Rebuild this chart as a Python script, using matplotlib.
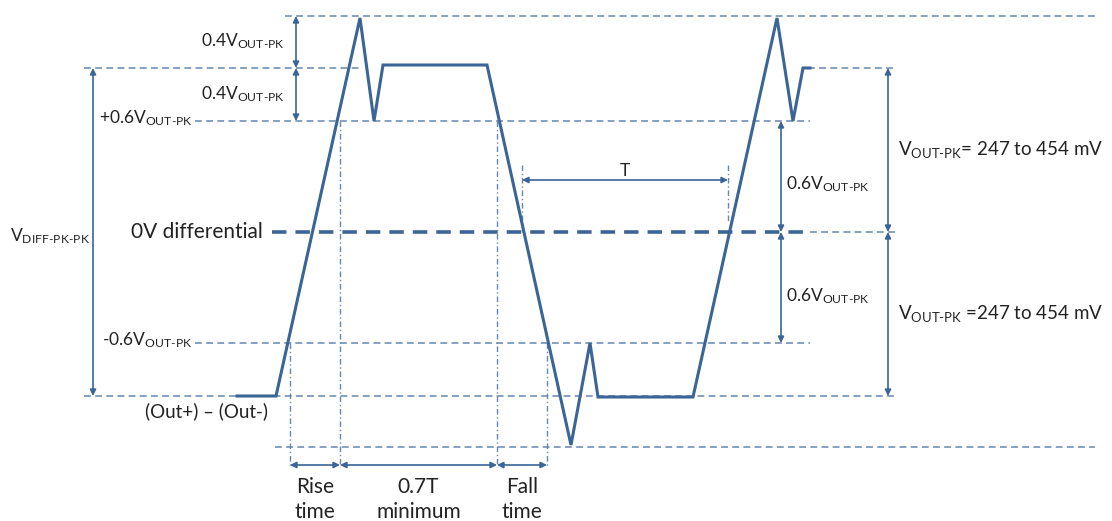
import matplotlib
matplotlib.use("Agg")
import matplotlib.pyplot as plt

plt.rcParams['font.family'] = ['Lato', 'DejaVu Sans']
plt.rcParams['mathtext.fontset'] = 'custom'
plt.rcParams['mathtext.rm'] = 'Lato'
plt.rcParams['mathtext.it'] = 'Lato'

# waveform corner points (time, level) in drawing units
wave_t = [237, 276, 360, 374, 383, 487, 571, 590, 598, 693, 777, 793, 803, 810]
wave_v = [396, 396, 18, 121, 65, 65, 445, 343, 397, 397, 18, 121, 68, 68]

# reference levels
lvl_top, lvl_high, lvl_p06, lvl_zero, lvl_m06, lvl_low, lvl_bot = 16, 68, 121, 232, 343, 396, 447
# threshold crossing times
t_rise0, t_rise1, t_fall0, t_fall1 = 290, 340, 497, 547
t_per0, t_per1 = 522, 728

wave_c = '#3a6596'
guide_c = '#6586b0'
txt_c = '#222222'

fig = plt.figure(figsize=(11.12, 5.21), dpi=100)
ax = fig.add_axes([0, 0, 1, 1])
ax.set_xlim(0, 1112)
ax.set_ylim(521, 0)
ax.axis('off')


def hdash(y, x0, x1, lw=1.1, ls=(0, (4.5, 2.8)), c=guide_c):
    ax.plot([x0, x1], [y, y], color=c, lw=lw, linestyle=ls)


def vdot(x, y0, y1):
    ax.plot([x, x], [y0, y1], color=guide_c, lw=1.0, linestyle=(0, (4, 2, 1, 2)))


def arrow(p0, p1):
    ax.annotate('', xy=p1, xytext=p0,
                arrowprops=dict(arrowstyle='<|-|>', color=wave_c, lw=1.2,
                                mutation_scale=9, shrinkA=0, shrinkB=0))


def vlabel(x, y, main, sub, rest='', ha='left', size=12.5):
    s = r'$\text{%s}_{\text{%s}}\text{%s}$' % (main, sub, rest)
    ax.text(x, y, s, ha=ha, va='center', fontsize=size, color=txt_c)


# horizontal guide lines
hdash(lvl_top, 285, 1095)
hdash(lvl_high, 84, 360)
hdash(lvl_high, 808, 895)
hdash(lvl_p06, 195, 810)
hdash(lvl_m06, 195, 810)
hdash(lvl_low, 84, 895)
hdash(lvl_bot, 275, 1095)
hdash(lvl_zero, 810, 895)
hdash(lvl_zero, 272, 810, lw=2.6, ls=(0, (4, 2.5)), c=wave_c)

# vertical timing guides
for t, y0 in [(t_rise0, lvl_m06), (t_rise1, lvl_p06), (t_fall0, lvl_p06), (t_fall1, lvl_m06)]:
    vdot(t, y0, 467)
vdot(t_per0, 165, lvl_zero)
vdot(t_per1, 165, 222)

# waveform
ax.plot(wave_t, wave_v, color=wave_c, lw=2.2, solid_joinstyle='miter', zorder=5)

# dimension arrows
arrow((93, lvl_high), (93, lvl_low))
arrow((296, lvl_top), (296, lvl_high))
arrow((296, lvl_high), (296, lvl_p06))
arrow((781, lvl_p06), (781, lvl_zero))
arrow((781, lvl_zero), (781, lvl_m06))
arrow((888, lvl_high), (888, lvl_zero))
arrow((888, lvl_zero), (888, lvl_low))
arrow((t_per0, 180), (t_per1, 180))
arrow((t_rise0, 465), (t_rise1, 465))
arrow((t_rise1, 465), (t_fall0, 465))
arrow((t_fall0, 465), (t_fall1, 465))

# labels
vlabel(285, 41, '0.4V', 'OUT-PK', ha='right')
vlabel(285, 94, '0.4V', 'OUT-PK', ha='right')
vlabel(193, 118, '+0.6V', 'OUT-PK', ha='right')
vlabel(192, 340, '-0.6V', 'OUT-PK', ha='right')
vlabel(10, 236, 'V', 'DIFF-PK-PK')
vlabel(786, 184, '0.6V', 'OUT-PK')
vlabel(786, 296, '0.6V', 'OUT-PK')
vlabel(898, 150, 'V', 'OUT-PK', '= 247 to 454 mV', size=13.5)
vlabel(898, 314, 'V', 'OUT-PK', ' =247 to 454 mV', size=13.5)
ax.text(263, 232, '0V differential', ha='right', va='center', fontsize=15, color=txt_c)
ax.text(268, 411, '(Out+) \u2013 (Out-)', ha='right', va='center', fontsize=13.5, color=txt_c)
ax.text((t_per0 + t_per1) / 2, 171, 'T', ha='center', va='center', fontsize=12.5, color=txt_c)
for x, top, bottom in [((t_rise0 + t_rise1) / 2, 'Rise', 'time'),
                       ((t_rise1 + t_fall0) / 2, '0.7T', 'minimum'),
                       ((t_fall0 + t_fall1) / 2, 'Fall', 'time')]:
    ax.text(x, 493, top, ha='center', va='baseline', fontsize=15, color=txt_c)
    ax.text(x, 518, bottom, ha='center', va='baseline', fontsize=15, color=txt_c)

fig.savefig('out.png', dpi=100)
